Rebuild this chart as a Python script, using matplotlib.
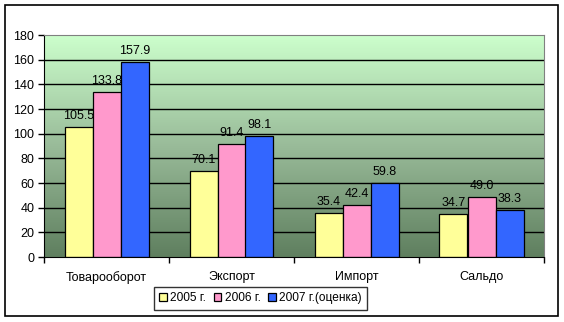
import numpy as np
import matplotlib.pyplot as plt
from matplotlib.colors import LinearSegmentedColormap
from matplotlib.patches import Rectangle

plt.rcParams['font.family'] = ['Liberation Sans', 'DejaVu Sans']

categories = ['Товарооборот', 'Экспорт', 'Импорт', 'Сальдо']
series_names = ['2005 г.', '2006 г.', '2007 г.(оценка)']
v2005 = [105.5, 70.1, 35.4, 34.7]
v2006 = [133.8, 91.4, 42.4, 49.0]
v2007 = [157.9, 98.1, 59.8, 38.3]
labels2006 = ['133.8', '91.4', '42.4', '49.0']
colors = ['#FFFF99', '#FF99CC', '#3366FF']

fig = plt.figure(figsize=(5.64, 3.22), dpi=100)
# outer frame
fig.patches.append(Rectangle((5 / 564, 6 / 322), 553 / 564, 311 / 322,
                             transform=fig.transFigure, fill=False,
                             edgecolor='black', linewidth=1.2))
ax = fig.add_axes([44 / 564, 65 / 322, 500 / 564, 222 / 322])

x = np.arange(len(categories))
w = 0.224
ax.set_xlim(-0.5, len(categories) - 0.5)
ax.set_ylim(0, 180)

cmap = LinearSegmentedColormap.from_list('g', ['#5F7F5F', '#99BB99', '#CCFFCC'])
grad = np.linspace(0, 1, 256).reshape(-1, 1)
ax.imshow(grad, extent=[-0.5, len(categories) - 0.5, 0, 180], aspect='auto',
          origin='lower', cmap=cmap, zorder=0)

for yv in range(20, 180, 20):
    ax.axhline(yv, color='black', linewidth=1, zorder=1)

series = [v2005, v2006, v2007]
for i, vals in enumerate(series):
    bars = ax.bar(x + (i - 1) * w, vals, w, color=colors[i], edgecolor='black',
                  linewidth=0.9, zorder=2, label=series_names[i])
    for k, (b, v) in enumerate(zip(bars, vals)):
        txt = labels2006[k] if i == 1 else f'{v:.1f}'
        ax.text(b.get_x() + b.get_width() / 2, v + 4, txt, ha='center',
                va='bottom', fontsize=9, zorder=3)

ax.set_yticks(range(0, 181, 20))
ax.set_xticks(x)
ax.set_xticklabels(categories, fontsize=9)
ax.set_xticks(np.arange(-0.5, len(categories), 1), minor=True)
ax.tick_params(axis='x', which='major', length=0, pad=10)
ax.tick_params(axis='x', which='minor', length=4, width=1, color='black')
ax.tick_params(axis='y', length=4, width=1, labelsize=9, pad=3)

for side in ['top', 'right']:
    ax.spines[side].set_color('#808080')
ax.spines['left'].set_color('black')
ax.spines['bottom'].set_color('black')

leg = ax.legend(loc='upper center', bbox_to_anchor=(0.433, -0.135), ncol=3,
                fontsize=8.6, frameon=True, fancybox=False, edgecolor='black',
                handlelength=0.65, handleheight=0.65, handletextpad=0.3,
                columnspacing=0.6, borderpad=0.45, borderaxespad=0)
leg.get_frame().set_linewidth(1)

fig.savefig('out.png', dpi=100)
